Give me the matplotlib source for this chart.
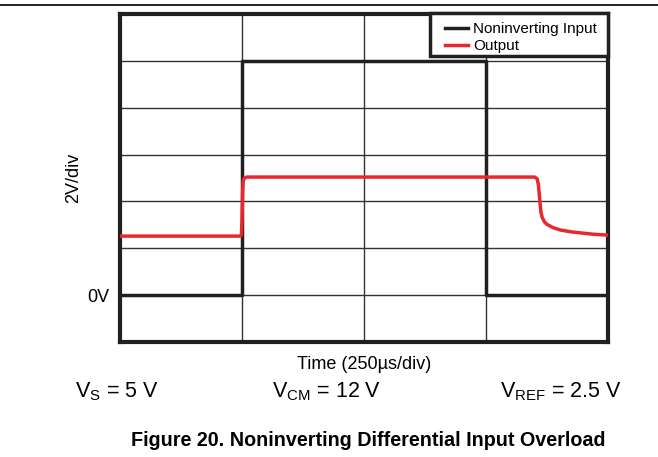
import matplotlib
matplotlib.use("Agg")
import matplotlib.pyplot as plt
from matplotlib.lines import Line2D
from matplotlib.patches import Rectangle

plt.rcParams['font.family'] = ['Liberation Sans', 'DejaVu Sans']

# time in divisions (250us/div), voltage in divisions (2V/div)
input_t = [0.0, 1.0, 1.0, 3.0, 3.0, 4.0]
input_v = [0.0, 0.0, 5.0, 5.0, 0.0, 0.0]

output_t = [0.0, 0.98, 0.995, 1.0, 1.005, 1.01, 1.02, 1.04, 3.40, 3.42, 3.43, 3.44,
            3.45, 3.46, 3.48, 3.50, 3.55, 3.61, 3.70, 3.77, 3.88, 4.0]
output_v = [1.26, 1.26, 1.28, 1.6, 2.2, 2.45, 2.50, 2.52, 2.52, 2.48, 2.35, 2.05,
            1.78, 1.66, 1.56, 1.51, 1.44, 1.39, 1.35, 1.33, 1.30, 1.28]

y_ticks = [-1, 0, 1, 2, 3, 4, 5, 6]
y_labels = ['', '0V', '', '', '', '', '', '']
x_ticks = [0, 1, 2, 3, 4]

fig = plt.figure(figsize=(6.58, 4.57), dpi=100)
ax = fig.add_axes([120/658, 1-342/457, 488/658, 328/457])

ax.plot(input_t, input_v, color='#231f20', lw=2.5, label='Noninverting Input', zorder=3)
ax.plot(output_t, output_v, color='#e8282e', lw=2.5, label='Output', zorder=4)

ax.set_xlim(0, 4)
ax.set_ylim(-1, 6)
ax.set_xticks(x_ticks)
ax.set_xticklabels([])
ax.set_yticks(y_ticks)
ax.set_yticklabels(y_labels, fontsize=13)
ax.tick_params(length=0, pad=8)
ax.grid(True, color='#333333', lw=1)
for s in ax.spines.values():
    s.set_linewidth(3)
    s.set_color('#231f20')

ax.set_xlabel('Time (250µs/div)', fontsize=13, labelpad=2)
ax.set_ylabel('2V/div', fontsize=13, labelpad=3)

# legend box drawn by hand so it can be wider than matplotlib's padding allows
box = Rectangle((0.635, 0.873), 0.365, 0.13, transform=ax.transAxes,
                facecolor='white', edgecolor='#231f20', lw=2.5, zorder=5, clip_on=False)
ax.add_patch(box)
leg = ax.legend(loc='upper left', fontsize=11, frameon=False, borderaxespad=0,
                handlelength=1.5, handletextpad=0.3, labelspacing=0.22,
                borderpad=0.4, bbox_to_anchor=(0.654, 0.994))
leg.set_zorder(6)

fig.text(75/658, 1-392/457, 'V$_\\mathregular{S}$ = 5 V', fontsize=15.5, va='center')
fig.text(272/658, 1-392/457, 'V$_\\mathregular{CM}$ = 12 V', fontsize=15.5, va='center')
fig.text(500/658, 1-392/457, 'V$_\\mathregular{REF}$ = 2.5 V', fontsize=15.5, va='center')

fig.text(368/658, 1-440/457, 'Figure 20. Noninverting Differential Input Overload',
         fontsize=14.2, fontweight='bold', ha='center', va='center')

# document header rule
fig.add_artist(Line2D([0, 1], [1-5/457, 1-5/457], color='black', lw=1.2))

fig.savefig('out.png', dpi=100)
